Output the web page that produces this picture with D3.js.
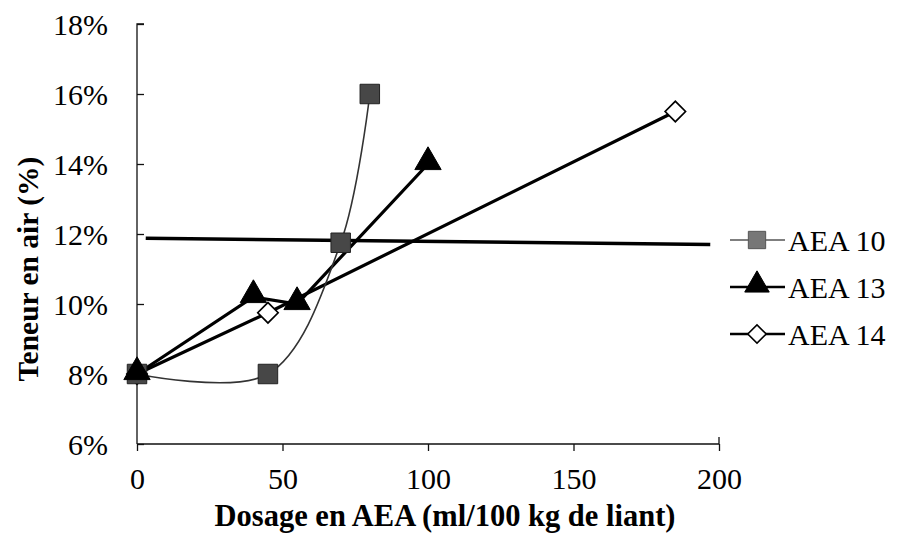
<!DOCTYPE html>
<html>
<head>
<meta charset="utf-8">
<script src="https://cdn.jsdelivr.net/npm/d3@7"></script>
</head>
<body style="margin:0;background:#fff">
<svg id="chart" width="899" height="545"></svg>
<script>
// Air content vs. AEA dosage for three admixtures
const seriesNames = ["AEA 10", "AEA 13", "AEA 14"];
const aea10X = [0, 45, 70, 80];
const aea10Y = [8.0, 8.0, 11.75, 16.0];
const aea13X = [0, 40, 55, 100];
const aea13Y = [8.0, 10.2, 10.0, 14.0];
const aea14X = [0, 45, 185];
const aea14Y = [8.0, 9.75, 15.5];
// reference level line
const refX = [3, 197];
const refY = [11.88, 11.7];
const xTicks = [0, 50, 100, 150, 200];
const yTicks = [6, 8, 10, 12, 14, 16, 18];
const xTitle = "Dosage en AEA (ml/100 kg de liant)";
const yTitle = "Teneur en air (%)";

const FONT = '"Liberation Serif", "Times New Roman", serif';

const svg = d3.select("#chart");
const x = d3.scaleLinear().domain([0, 200]).range([137, 719]);
const y = d3.scaleLinear().domain([6, 18]).range([444, 24]);

const zip = (xs, ys) => xs.map((v, i) => ({ x: v, y: ys[i] }));
const d10 = zip(aea10X, aea10Y);
const d13 = zip(aea13X, aea13Y);
const d14 = zip(aea14X, aea14Y);
const dRef = zip(refX, refY);

// axes
const xAxis = d3.axisBottom(x).tickValues(xTicks).tickSize(-7).tickSizeOuter(-7).tickPadding(24)
  .tickFormat(d3.format("d"));
const yAxis = d3.axisLeft(y).tickValues(yTicks).tickSize(-7).tickSizeOuter(-7).tickPadding(29)
  .tickFormat(d => d + "%");

const gx = svg.append("g").attr("transform", "translate(0,444)").call(xAxis);
const gy = svg.append("g").attr("transform", "translate(137,0)").call(yAxis);
[gx, gy].forEach(g => {
  g.selectAll("path, line").attr("stroke", "#111").attr("stroke-width", 1.3);
  g.selectAll("text").attr("fill", "#000").attr("font-size", 30).style("font-family", FONT);
});
gx.selectAll(".tick line").attr("y2", 7);
gx.select(".domain").attr("d", `M137,0H719V-7`);
gy.selectAll(".tick line").attr("x2", 7);
gy.select(".domain").attr("d", `M7,${y(18)}H0V444`);
gy.selectAll("text").attr("dy", "0.35em");

// axis titles
svg.append("text").attr("x", 445).attr("y", 526).attr("text-anchor", "middle")
  .style("font-family", FONT).attr("font-weight", "bold").attr("font-size", 30.5).text(xTitle);
svg.append("text").attr("transform", `translate(38,269) rotate(-90)`)
  .style("font-family", FONT).attr("text-anchor", "middle")
  .attr("font-weight", "bold").attr("font-size", 29.5).text(yTitle);

const line = d3.line().x(d => x(d.x)).y(d => y(d.y));
const smooth = d3.line().x(d => x(d.x)).y(d => y(d.y)).curve(d3.curveCatmullRom.alpha(0.5));

// reference line
svg.append("path").datum(dRef).attr("d", line).attr("fill", "none")
  .attr("stroke", "#000").attr("stroke-width", 3.5);

// series lines
svg.append("path").datum(d14).attr("d", line).attr("fill", "none")
  .attr("stroke", "#000").attr("stroke-width", 3.2);
svg.append("path").datum(d13).attr("d", line).attr("fill", "none")
  .attr("stroke", "#000").attr("stroke-width", 3.2);
svg.append("path").datum(d10).attr("d", smooth).attr("fill", "none")
  .attr("stroke", "#333").attr("stroke-width", 1.6);

// markers
const sq = d3.symbol().type(d3.symbolSquare).size(380);
const tri = d3.symbol().type(d3.symbolTriangle).size(300);
const dia = d3.symbol().type(d3.symbolSquare).size(210);

function drawMarkers(data, sym, fill, stroke, sw, dy, rot) {
  svg.append("g").selectAll("path").data(data).join("path")
    .attr("transform", d => `translate(${x(d.x)},${y(d.y) + (dy || 0)}) rotate(${rot || 0})`)
    .attr("d", sym).attr("fill", fill).attr("stroke", stroke).attr("stroke-width", sw);
}
drawMarkers(d14, dia, "#fff", "#000", 1.6, 0, 45);
drawMarkers(d10, sq, "#474747", "#222", 1);
drawMarkers(d13, tri, "#000", "#000", 1, -2);

// legend
const legendY = [240, 287, 334];
const legendSyms = [
  d3.symbol().type(d3.symbolSquare).size(300),
  d3.symbol().type(d3.symbolTriangle).size(260),
  d3.symbol().type(d3.symbolSquare).size(170)
];
const legend = svg.append("g");
legendY.forEach((ly, i) => {
  legend.append("line").attr("x1", 730).attr("x2", 785).attr("y1", ly).attr("y2", ly)
    .attr("stroke", i === 0 ? "#555" : "#000").attr("stroke-width", i === 0 ? 1.6 : 2.4);
  legend.append("path")
    .attr("transform", `translate(757,${ly + (i === 1 ? -2 : 0)}) rotate(${i === 2 ? 45 : 0})`)
    .attr("d", legendSyms[i])
    .attr("fill", ["#777", "#000", "#fff"][i]).attr("stroke", ["#555", "#000", "#000"][i])
    .attr("stroke-width", i === 2 ? 1.6 : 1);
  legend.append("text").attr("x", 788).attr("y", ly).attr("dy", "0.35em")
    .style("font-family", FONT).attr("font-size", 30).text(seriesNames[i]);
});
</script>
</body>
</html>
